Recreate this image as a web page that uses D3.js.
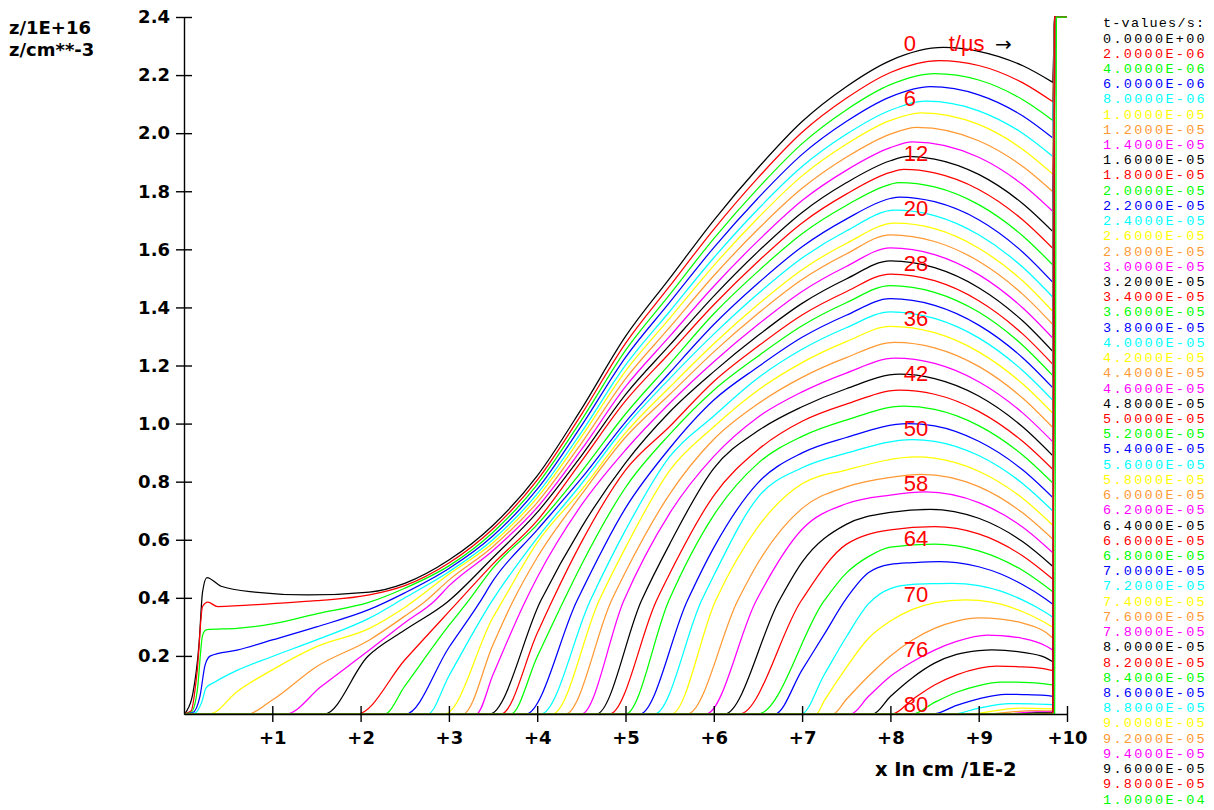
<!DOCTYPE html>
<html><head><meta charset="utf-8">
<script src="https://cdn.jsdelivr.net/npm/d3@7"></script>
<style>body{margin:0;background:#fff;} svg{display:block;}</style>
</head><body>
<svg id="c" width="1214" height="810"></svg>
<script>
// ---- data: z(x) profiles, x in cm/1E-2, z in cm^-3/1E+16, one array per time step ----
const z00 = [[0,0],[0.03,0.01],[0.1,0.07],[0.17,0.24],[0.21,0.42],[0.26,0.47],[0.42,0.44],[0.8,0.42],[1.4,0.41],[2.1,0.42],[2.5,0.45],[3,0.53],[3.5,0.65],[4,0.82],[4.5,1.05],[5,1.3],[5.5,1.5],[6,1.7],[6.5,1.88],[7,2.04],[7.5,2.16],[8,2.25],[8.6,2.295],[9,2.282],[9.5,2.232],[9.84,2.175]];
const z02 = [[0,0],[0.08,0.01],[0.15,0.15],[0.21,0.37],[0.27,0.385],[0.38,0.37],[1,0.38],[1.5,0.39],[2.1,0.41],[2.5,0.442],[3,0.52],[3.5,0.638],[4,0.805],[4.5,1.031],[5,1.276],[5.5,1.473],[6,1.669],[6.5,1.846],[7,2.003],[7.5,2.12],[8,2.209],[8.55,2.25],[9,2.233],[9.5,2.173],[9.84,2.108]];
const z04 = [[0,0],[0.08,0.005],[0.15,0.08],[0.21,0.27],[0.25,0.29],[0.6,0.295],[1,0.31],[1.5,0.345],[2.1,0.385],[2.5,0.433],[3,0.51],[3.5,0.626],[4,0.79],[4.5,1.011],[5,1.252],[5.5,1.444],[6,1.637],[6.5,1.81],[7,1.964],[7.5,2.08],[8,2.167],[8.5,2.205],[9,2.183],[9.5,2.115],[9.84,2.044]];
const z06 = [[0,0],[0.1,0.005],[0.18,0.06],[0.24,0.17],[0.3,0.2],[0.6,0.22],[1,0.255],[1.5,0.3],[2.1,0.36],[2.5,0.417],[3,0.501],[3.5,0.614],[4,0.774],[4.5,0.992],[5,1.228],[5.5,1.417],[6,1.606],[6.5,1.776],[7,1.927],[7.5,2.04],[8,2.125],[8.45,2.16],[9,2.132],[9.5,2.059],[9.84,1.983]];
const z08 = [[0,0],[0.12,0.003],[0.2,0.04],[0.25,0.09],[0.35,0.11],[0.6,0.15],[1,0.198],[1.5,0.255],[2.1,0.33],[2.5,0.4],[3,0.49],[3.5,0.601],[4,0.758],[4.5,0.97],[5,1.201],[5.5,1.386],[6,1.571],[6.5,1.738],[7,1.885],[7.5,1.996],[8,2.079],[8.4,2.11],[9,2.077],[9.5,1.999],[9.84,1.92]];
const z10 = [[0,0],[0.29,0],[0.6,0.077],[1,0.152],[1.5,0.232],[2.1,0.295],[2.5,0.367],[3,0.481],[3.5,0.59],[4,0.745],[4.5,0.954],[5,1.181],[5.5,1.362],[6,1.544],[6.5,1.708],[7,1.853],[7.5,1.962],[8,2.044],[8.35,2.07],[9,2.03],[9.5,1.944],[9.84,1.859]];
const z12 = [[0,0],[0.72,0],[1,0.048],[1.5,0.163],[2.1,0.255],[2.5,0.337],[2.72,0.385],[3,0.461],[3.5,0.577],[4,0.728],[4.5,0.932],[5,1.154],[5.5,1.331],[6,1.509],[6.5,1.669],[7,1.81],[7.5,1.917],[8,1.997],[8.3,2.02],[9,1.974],[9.5,1.885],[9.84,1.798]];
const z14 = [[0,0],[1.155,0],[1.55,0.094],[2.1,0.22],[2.5,0.314],[2.84,0.39],[3,0.441],[3.5,0.563],[4,0.711],[4.5,0.91],[5,1.127],[5.5,1.3],[6,1.473],[6.5,1.629],[7,1.768],[7.5,1.872],[8,1.95],[8.25,1.97],[9,1.917],[9.5,1.822],[9.84,1.73]];
const z16 = [[0,0],[1.59,0],[2.08,0.198],[2.5,0.289],[2.98,0.385],[3.5,0.539],[4,0.694],[4.5,0.889],[5,1.1],[5.5,1.27],[6,1.439],[6.5,1.592],[7,1.727],[7.5,1.829],[8,1.905],[8.2,1.92],[8.5,1.911],[9,1.858],[9.5,1.757],[9.84,1.661]];
const z18 = [[0,0],[1.96,0],[2.5,0.186],[3.1,0.385],[3.5,0.517],[4,0.666],[4.5,0.87],[5,1.078],[5.5,1.243],[6,1.409],[6.5,1.558],[7,1.691],[7.5,1.79],[8,1.865],[8.15,1.875],[8.5,1.863],[9,1.806],[9.5,1.701],[9.84,1.603]];
const z20 = [[0,0],[2.27,0],[2.5,0.096],[3,0.305],[3.21,0.385],[3.5,0.503],[4,0.652],[4.5,0.834],[5,1.033],[5.5,1.205],[6,1.378],[6.5,1.524],[7,1.654],[7.5,1.751],[8,1.824],[8.1,1.83],[8.5,1.815],[9,1.754],[9.5,1.646],[9.84,1.546]];
const z22 = [[0,0],[2.51,0],[3,0.229],[3.35,0.385],[3.5,0.459],[4,0.634],[4.5,0.811],[5,1.005],[5.5,1.175],[6,1.341],[6.5,1.483],[7,1.609],[7.5,1.704],[8,1.775],[8.1,1.78],[8.5,1.764],[9,1.702],[9.5,1.59],[9.84,1.486]];
const z24 = [[0,0],[2.76,0],[3,0.131],[3.48,0.385],[4,0.606],[4.5,0.792],[5,0.99],[5.5,1.155],[6,1.308],[6.5,1.447],[7,1.57],[7.5,1.663],[8.05,1.735],[8.5,1.716],[9,1.65],[9.5,1.538],[9.84,1.435]];
const z26 = [[0,0],[2.95,0],[3.5,0.333],[3.6,0.385],[4,0.59],[4.5,0.771],[5,0.968],[5.5,1.125],[6,1.275],[6.5,1.41],[7,1.53],[7.5,1.62],[8.05,1.69],[8.5,1.671],[9,1.604],[9.5,1.491],[9.84,1.386]];
const z28 = [[0,0],[3.16,0],[3.5,0.239],[3.72,0.385],[4,0.539],[4.5,0.755],[5,0.953],[5.5,1.1],[6,1.247],[6.5,1.379],[7,1.496],[7.5,1.584],[8,1.65],[8.5,1.627],[9,1.559],[9.5,1.445],[9.84,1.341]];
const z30 = [[0,0],[3.31,0],[3.5,0.136],[3.86,0.385],[4,0.47],[4.5,0.719],[5,0.909],[5.5,1.07],[6,1.213],[6.5,1.341],[7,1.455],[7.5,1.541],[8,1.605],[8.5,1.582],[9,1.513],[9.5,1.398],[9.84,1.294]];
const z32 = [[0,0],[3.46,0],[4.04,0.39],[4.5,0.642],[5,0.865],[5.5,1.04],[6,1.179],[6.5,1.303],[7,1.414],[7.5,1.498],[8,1.56],[8.5,1.537],[9,1.468],[9.5,1.353],[9.84,1.248]];
const z34 = [[0,0],[3.59,0],[4,0.278],[4.17,0.39],[4.5,0.591],[5,0.84],[5.5,0.99],[6,1.145],[6.5,1.266],[7,1.374],[7.5,1.454],[8,1.515],[8.5,1.492],[9,1.423],[9.5,1.308],[9.84,1.204]];
const z36 = [[0,0],[3.7,0],[4,0.197],[4.3,0.39],[4.5,0.513],[5,0.78],[5.5,0.963],[6,1.115],[6.5,1.232],[7,1.337],[7.5,1.416],[8,1.475],[8.5,1.452],[9,1.384],[9.5,1.269],[9.84,1.165]];
const z38 = [[0,0],[3.87,0],[4.45,0.39],[5,0.709],[5.5,0.915],[6,1.081],[6.5,1.195],[7,1.297],[7.5,1.373],[8,1.43],[8.5,1.407],[9,1.339],[9.5,1.226],[9.84,1.123]];
const z40 = [[0,0],[4.04,0],[4.6,0.39],[5,0.633],[5.5,0.886],[6,1.026],[6.5,1.157],[7,1.256],[7.5,1.33],[8,1.385],[8.5,1.362],[9,1.295],[9.5,1.182],[9.84,1.08]];
const z42 = [[0,0],[4.17,0],[4.7,0.39],[5,0.573],[5.5,0.838],[6,0.989],[6.5,1.115],[7,1.21],[7.5,1.282],[8,1.335],[8.5,1.313],[9,1.247],[9.5,1.136],[9.84,1.035]];
const z44 = [[0,0],[4.32,0],[4.84,0.39],[5,0.489],[5.5,0.757],[6,0.946],[6.5,1.068],[7,1.159],[7.5,1.227],[8.05,1.28],[8.5,1.261],[9,1.197],[9.5,1.087],[9.84,0.986]];
const z46 = [[0,0],[4.5,0],[4.98,0.39],[5.5,0.691],[6,0.887],[6.5,1.022],[7,1.109],[7.5,1.174],[8.05,1.225],[8.5,1.207],[9,1.144],[9.5,1.036],[9.84,0.937]];
const z48 = [[0,0],[4.67,0],[5.18,0.39],[5.5,0.585],[6,0.846],[6.5,0.975],[7,1.058],[7.5,1.12],[8.1,1.17],[8.5,1.155],[9,1.095],[9.5,0.988],[9.84,0.889]];
const z50 = [[0,0],[4.82,0],[5.35,0.39],[5.5,0.483],[6,0.752],[6.5,0.91],[7,1.008],[7.5,1.067],[8.1,1.115],[8.5,1.101],[9,1.042],[9.5,0.938],[9.84,0.842]];
const z52 = [[0,0],[5,0],[5.49,0.39],[6,0.685],[6.5,0.863],[7,0.956],[7.5,1.012],[8.15,1.06],[8.5,1.049],[9,0.993],[9.5,0.891],[9.84,0.795]];
const z54 = [[0,0],[5.16,0],[5.7,0.39],[6,0.573],[6.5,0.796],[7,0.899],[7.5,0.952],[8.2,1.0],[8.5,0.992],[9,0.939],[9.5,0.84],[9.84,0.745]];
const z56 = [[0,0],[5.33,0],[5.86,0.39],[6,0.477],[6.5,0.746],[7,0.848],[7.5,0.898],[8.25,0.945],[8.5,0.939],[9,0.89],[9.5,0.793],[9.84,0.699]];
const z58 = [[0,0],[5.52,0],[6.02,0.39],[6.5,0.644],[7,0.793],[7.5,0.84],[8.3,0.885],[8.5,0.881],[9,0.836],[9.5,0.742],[9.84,0.65]];
const z60 = [[0,0],[5.7,0],[6.27,0.39],[6.5,0.52],[7,0.708],[7.5,0.782],[8,0.815],[8.35,0.825],[9,0.783],[9.5,0.692],[9.84,0.602]];
const z62 = [[0,0],[5.91,0],[6.48,0.39],[7,0.636],[7.5,0.724],[8,0.754],[8.4,0.765],[9,0.728],[9.5,0.643],[9.84,0.555]];
const z64 = [[0,0],[6.12,0],[6.74,0.39],[7,0.523],[7.5,0.653],[8,0.694],[8.45,0.705],[9,0.674],[9.5,0.593],[9.84,0.508]];
const z66 = [[0,0],[6.29,0],[6.99,0.39],[7.5,0.584],[8,0.634],[8.5,0.645],[9,0.62],[9.5,0.544],[9.84,0.464]];
const z68 = [[0,0],[6.5,0],[7.25,0.39],[7.5,0.485],[7.75,0.542],[8,0.575],[8.5,0.585],[9,0.562],[9.5,0.494],[9.84,0.421]];
const z70 = [[0,0],[6.69,0],[7,0.152],[7.25,0.274],[7.5,0.397],[7.75,0.486],[8,0.515],[8.25,0.521],[8.55,0.525],[8.75,0.521],[9,0.507],[9.25,0.482],[9.5,0.445],[9.75,0.398],[9.84,0.378]];
const z72 = [[0,0],[6.99,0],[7.25,0.135],[7.5,0.265],[7.75,0.379],[8,0.432],[8.25,0.446],[8.5,0.449],[8.7,0.45],[9,0.442],[9.25,0.423],[9.5,0.392],[9.75,0.351],[9.84,0.333]];
const z74 = [[0,0],[7.16,0],[7.25,0.045],[7.5,0.16],[7.75,0.26],[8,0.32],[8.25,0.36],[8.5,0.383],[8.85,0.393],[9,0.391],[9.25,0.378],[9.5,0.352],[9.75,0.315],[9.84,0.299]];
const z76 = [[0,0],[7.35,0],[7.5,0.05],[7.75,0.13],[8,0.2],[8.25,0.255],[8.5,0.295],[8.75,0.32],[9,0.331],[9.25,0.327],[9.5,0.313],[9.75,0.283],[9.84,0.261]];
const z78 = [[0,0],[7.55,0],[7.75,0.06],[8,0.13],[8.25,0.18],[8.5,0.22],[8.75,0.25],[9.1,0.272],[9.25,0.27],[9.5,0.26],[9.75,0.236],[9.84,0.22]];
const z80 = [[0,0],[7.8,0],[8,0.06],[8.25,0.125],[8.5,0.175],[8.75,0.205],[9,0.218],[9.15,0.221],[9.5,0.212],[9.75,0.195],[9.84,0.18]];
const z82 = [[0,0],[8.02,0],[8.25,0.05],[8.5,0.1],[8.75,0.135],[9,0.157],[9.2,0.165],[9.5,0.162],[9.75,0.155],[9.84,0.149]];
const z84 = [[0,0],[8.25,0],[8.5,0.04],[8.75,0.075],[9,0.098],[9.25,0.11],[9.5,0.109],[9.75,0.104],[9.84,0.1]];
const z86 = [[0,0],[8.48,0],[8.75,0.03],[9,0.052],[9.3,0.068],[9.5,0.067],[9.75,0.064],[9.84,0.061]];
const z88 = [[0,0],[8.7,0],[9,0.02],[9.35,0.036],[9.6,0.035],[9.84,0.032]];
const z90 = [[0,0],[8.9,0],[9.2,0.012],[9.45,0.02],[9.84,0.018]];
const z92 = [[0,0],[9.1,0],[9.4,0.008],[9.6,0.012],[9.84,0.011]];
const z94 = [[0,0],[9.3,0],[9.55,0.006],[9.84,0.008]];
const z96 = [[0,0],[9.45,0],[9.65,0.004],[9.84,0.005]];
const z98 = [[0,0],[9.6,0],[9.84,0.003]];
const z100 = [[0,0],[9.5,0],[9.86,0]];
// right boundary: each profile jumps off the top of the frame at the wall
const wallX = [9.86, 9.88];   // wall position for profiles 0..49 and for the last profile
const wallTop = 2.4;

const profiles = [z00,z02,z04,z06,z08,z10,z12,z14,z16,z18,z20,z22,z24,z26,z28,z30,z32,z34,z36,z38,z40,z42,z44,z46,z48,z50,z52,z54,z56,z58,z60,z62,z64,z66,z68,z70,z72,z74,z76,z78,z80,z82,z84,z86,z88,z90,z92,z94,z96,z98,z100];

const tLegend = ["0.0000E+00","2.0000E-06","4.0000E-06","6.0000E-06","8.0000E-06","1.0000E-05","1.2000E-05","1.4000E-05","1.6000E-05","1.8000E-05","2.0000E-05","2.2000E-05","2.4000E-05","2.6000E-05","2.8000E-05","3.0000E-05","3.2000E-05","3.4000E-05","3.6000E-05","3.8000E-05","4.0000E-05","4.2000E-05","4.4000E-05","4.6000E-05","4.8000E-05","5.0000E-05","5.2000E-05","5.4000E-05","5.6000E-05","5.8000E-05","6.0000E-05","6.2000E-05","6.4000E-05","6.6000E-05","6.8000E-05","7.0000E-05","7.2000E-05","7.4000E-05","7.6000E-05","7.8000E-05","8.0000E-05","8.2000E-05","8.4000E-05","8.6000E-05","8.8000E-05","9.0000E-05","9.2000E-05","9.4000E-05","9.6000E-05","9.8000E-05","1.0000E-04"];
const yTicks = [0.2,0.4,0.6,0.8,1.0,1.2,1.4,1.6,1.8,2.0,2.2,2.4];
const xTicks = [1,2,3,4,5,6,7,8,9,10];
const xTickLabels = ["+1","+2","+3","+4","+5","+6","+7","+8","+9","+10"];
const curveLabels = ["0","6","12","20","28","36","42","50","58","64","70","76","80"];

// ---- drawing ----
const palette = ["#000000","#ff0000","#00ff00","#0000ff","#00ffff","#ffff00","#ff9933","#ff00ff"];
const svg = d3.select("#c");
const x = d3.scaleLinear().domain([0,10]).range([184,1067]);
const y = d3.scaleLinear().domain([0,2.4]).range([714,17]);

svg.append("defs").append("clipPath").attr("id","plot")
  .append("rect").attr("x",x(0)).attr("y",y(2.4)-1).attr("width",x(10)-x(0)+1).attr("height",y(0)-y(2.4)+2);

const smooth = d3.line().x(d=>x(d[0])).y(d=>y(d[1])).curve(d3.curveMonotoneX);
const gCurves = svg.append("g").attr("clip-path","url(#plot)");
profiles.forEach((p,i)=>{
  const wx = i === profiles.length-1 ? wallX[1] : wallX[0];
  const d = smooth(p) + `L${x(wx)},${y(wallTop)}L${x(10)},${y(wallTop)}`;
  gCurves.append("path").attr("d",d).attr("fill","none")
    .attr("stroke",palette[i%8]).attr("stroke-width",1.25);
});

// axes
const ya = svg.append("g").attr("transform",`translate(${x(0)},0)`)
  .call(d3.axisLeft(y).tickValues(yTicks).tickSize(8).tickSizeOuter(0).tickPadding(6).tickFormat(d3.format(".1f")));
ya.selectAll(".tick line").attr("x1",8);
const xa = svg.append("g").attr("transform",`translate(0,${y(0)})`)
  .call(d3.axisBottom(x).tickValues(xTicks).tickSize(8).tickSizeOuter(0).tickPadding(9).tickFormat((d,i)=>xTickLabels[i]));
xa.selectAll(".tick line").attr("y1",-8);
[ya,xa].forEach(a=>{
  a.selectAll("path,line").attr("stroke","#000").attr("stroke-width",1.4);
  a.selectAll("text").attr("font-family","DejaVu Sans").attr("font-weight","bold").attr("font-size",18).attr("fill","#000");
});

// axis titles
const bold = sel=>sel.attr("font-family","DejaVu Sans").attr("font-weight","bold").attr("fill","#000");
bold(svg.append("text").attr("x",9).attr("y",34).attr("font-size",18).text("z/1E+16"));
bold(svg.append("text").attr("x",9).attr("y",56).attr("font-size",18).text("z/cm**-3"));
bold(svg.append("text").attr("x",875).attr("y",776).attr("font-size",19.5).text("x In cm /1E-2"));

// time labels on curves
curveLabels.forEach((s,i)=>{
  svg.append("text").attr("x",x(8.15)).attr("y",50.5+55.1*i)
    .attr("font-family","Liberation Sans").attr("font-size",22).attr("fill","#ff0000").text(s);
});
svg.append("text").attr("x",x(8.66)).attr("y",50.5)
  .attr("font-family","Liberation Sans").attr("font-size",22).attr("fill","#ff0000").text("t/\u00b5s");
svg.append("text").attr("x",995).attr("y",50.5)
  .attr("font-family","DejaVu Sans").attr("font-size",20).attr("fill","#000").text("\u2192");

// legend
svg.append("text").attr("x",1103).attr("y",23.5).attr("dominant-baseline","central")
  .attr("font-family","Liberation Mono").attr("font-size",13.5).attr("letter-spacing",1.2).attr("fill","#000").text("t-values/s:");
tLegend.forEach((s,i)=>{
  svg.append("text").attr("x",1103).attr("y",39+15.22*i).attr("dominant-baseline","central")
    .attr("font-family","Liberation Mono").attr("font-size",13.5).attr("letter-spacing",2.3).attr("fill",palette[i%8]).text(s);
});
</script>
</body></html>
